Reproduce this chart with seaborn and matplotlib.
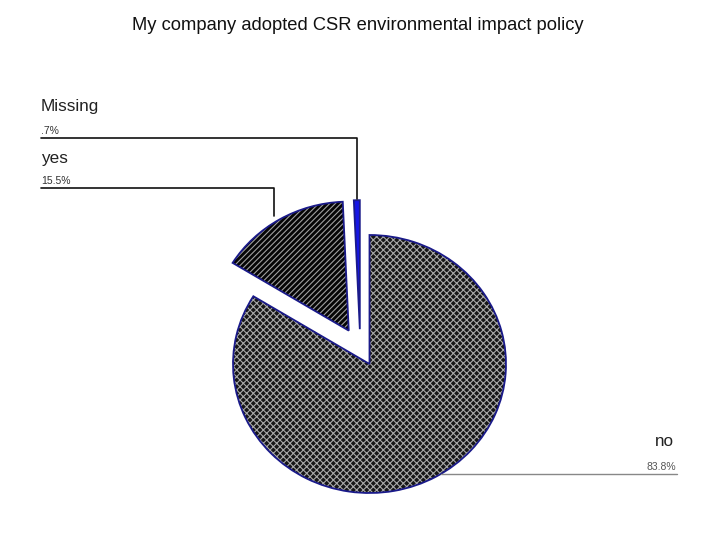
import matplotlib
matplotlib.use("Agg")
import matplotlib.pyplot as plt
from matplotlib.lines import Line2D
import seaborn as sns

sns.set_style("white")
plt.rcParams['font.family'] = ['Liberation Sans', 'DejaVu Sans']
plt.rcParams['hatch.linewidth'] = 0.8

title = "My company adopted CSR environmental impact policy"
categories = ["no", "yes", "Missing"]
values = [83.8, 15.5, 0.7]
pct_labels = ["83.8%", "15.5%", ".7%"]
explode = [0.0, 0.30, 0.27]
face_colors = ["#161616", "#050505", "#1515e6"]
hatch_colors = ["#a8a8a8", "#a0a0a0", "#1515e6"]
hatches = ["xxxxx", "//////", ""]

W, H = 720, 540
fig = plt.figure(figsize=(7.2, 5.4), dpi=100)

def fx(x):
    return x / W

def fy(y):
    return 1 - y / H

# pie geometry (pixel space)
cx, cy, rx, ry = 369.5, 364.0, 136.5, 129.0
L = 1.6
ax = fig.add_axes([fx(cx - L * rx), fy(cy + L * ry), 2 * L * rx / W, 2 * L * ry / H])

wedges, _ = ax.pie(values, explode=explode, startangle=90, counterclock=False,
                   colors=face_colors, wedgeprops=dict(linewidth=0))
for w, hc, h in zip(wedges, hatch_colors, hatches):
    w.set_edgecolor(hc)
    w.set_hatch(h)
outline, _ = ax.pie(values, explode=explode, startangle=90, counterclock=False,
                    wedgeprops=dict(facecolor="none", edgecolor="#1a1a8a", linewidth=1.3))
# small sideways nudge of the tiny exploded slice, as in the reference
for w in (wedges[2], outline[2]):
    c = w.center
    w.set_center((c[0] - 0.065, c[1]))
ax.set_aspect("auto")
ax.set_xlim(-L, L)
ax.set_ylim(-L, L)
ax.axis("off")

fig.text(fx(358), fy(25), title, ha="center", va="center", fontsize=13.2, color="#111111")

# labels and leader lines
fig.text(fx(41), fy(111), categories[2], ha="left", va="baseline", fontsize=12.3, color="#222222")
fig.text(fx(41), fy(134), pct_labels[2], ha="left", va="baseline", fontsize=7.5, color="#333333")
fig.add_artist(Line2D([fx(41), fx(357), fx(357)], [fy(138), fy(138), fy(199)],
                      color="#111111", linewidth=1.2))

fig.text(fx(41), fy(163), categories[1], ha="left", va="baseline", fontsize=12.3, color="#222222")
fig.text(fx(41), fy(184), pct_labels[1], ha="left", va="baseline", fontsize=7.5, color="#333333")
fig.add_artist(Line2D([fx(41), fx(274), fx(274)], [fy(188), fy(188), fy(216)],
                      color="#111111", linewidth=1.2))

fig.text(fx(674), fy(446), categories[0], ha="right", va="baseline", fontsize=12.3, color="#222222")
fig.text(fx(676), fy(470), pct_labels[0], ha="right", va="baseline", fontsize=7.5, color="#555555")
fig.add_artist(Line2D([fx(441), fx(677)], [fy(474), fy(474)],
                      color="#888888", linewidth=1.0))

fig.savefig("out.png", dpi=100, facecolor="white")
